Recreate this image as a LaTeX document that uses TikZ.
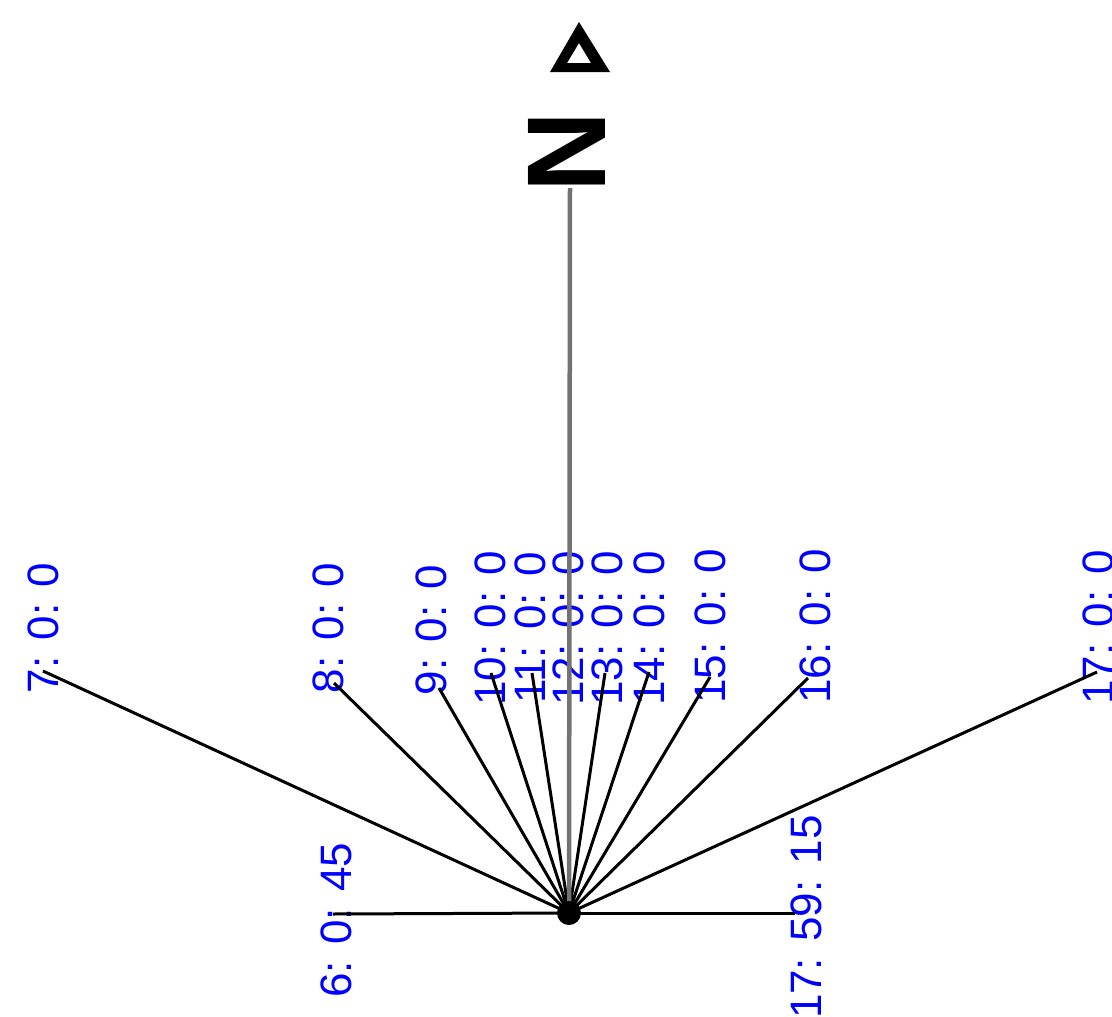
\documentclass[tikz,border=0pt]{standalone}
\usepackage{fontspec}
\setmainfont{Liberation Sans}
\begin{document}
\begin{tikzpicture}[x=1pt,y=-1pt,
  hourlabel/.style={text=blue, font=\fontsize{44}{44}\selectfont, rotate=90, inner sep=0pt, anchor=center},
  shadowline/.style={line width=3pt, black},
  northline/.style={line width=4.5pt, black!55},
  northmark/.style={font=\fontsize{112}{112}\selectfont\bfseries, rotate=90, inner sep=0pt, anchor=center}]
\useasboundingbox (0,0) rectangle (1112,1017);

% gnomon foot and shadow tips
\coordinate (O) at (569,913);
\coordinate (e7)  at (43,671);
\coordinate (e8)  at (334,683);
\coordinate (e9)  at (439,688);
\coordinate (e10) at (491,673);
\coordinate (e11) at (532,673);
\coordinate (e12) at (569,673);
\coordinate (e13) at (605,673);
\coordinate (e14) at (649,672);
\coordinate (e15) at (710,677);
\coordinate (e16) at (808,678);
\coordinate (e17) at (1097,672);
\coordinate (rise) at (333,914);
\coordinate (set)  at (795,913);

% time labels
\node[hourlabel] (l7)  at (43,628)   {7: 0: 0};
\node[hourlabel] (l8)  at (328,628)  {8: 0: 0};
\node[hourlabel] (l9)  at (431,630)  {9: 0: 0};
\node[hourlabel] (l10) at (490,628)  {10: 0: 0};
\node[hourlabel] (l11) at (530,628)  {11: 0: 0};
\node[hourlabel] (l12) at (568,628)  {12: 0: 0};
\node[hourlabel] (l13) at (607,628)  {13: 0: 0};
\node[hourlabel] (l14) at (649,628)  {14: 0: 0};
\node[hourlabel] (l15) at (710,626)  {15: 0: 0};
\node[hourlabel] (l16) at (815,626)  {16: 0: 0};
\node[hourlabel] (l17) at (1098,627) {17: 0: 0};
\node[hourlabel] (lrise) at (336,920) {6: 0: 45};
\node[hourlabel] (lset)  at (806,917) {17: 59: 15};

% shadow lines
\foreach \n in {7,8,9,10,11,12,13,14,15,16,17}
  \draw[shadowline] (O) -- (e\n);
\draw[shadowline] (O) -- (rise);
\draw[shadowline] (O) -- (set);

% north indicator
\node[northmark] (N) at (567,152) {N};
\coordinate (ntop) at (570,188);
\draw[northline] (ntop) -- (O);
\fill[even odd rule] (550,72) -- (610,72) -- (579,22) -- cycle
                     (567,63) -- (591,63) -- (579,43) -- cycle;

% gnomon foot
\fill (O) circle (12);
\end{tikzpicture}
\end{document}
